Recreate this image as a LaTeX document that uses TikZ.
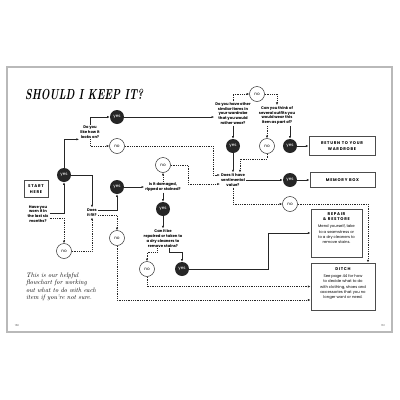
\documentclass[tikz,border=0pt]{standalone}
\usepackage{fontspec}
\usetikzlibrary{arrows.meta,positioning}
\newfontfamily\flowfont{Poppins}
\newfontfamily\capsfont[LetterSpace=18]{Poppins}
\newcommand\boxfont{\capsfont\bfseries\fontsize{4}{5.4}\selectfont}
\newcommand\askfont{\flowfont\bfseries\fontsize{3.8}{4.8}\selectfont}
\tikzset{
  yesdot/.style={circle,fill=black!85,text=white,minimum size=14pt,inner sep=0pt,
    font=\flowfont\fontsize{4.2}{4.4}\selectfont},
  nodot/.style={circle,draw=black!80,line width=0.5pt,fill=white,minimum size=15pt,inner sep=0pt,
    font=\flowfont\fontsize{4.2}{4.4}\selectfont},
  ask/.style={align=center,inner sep=1pt,font=\askfont},
  endbox/.style={draw=black!70,line width=0.9pt,align=center,inner sep=0pt,font=\boxfont},
  boxtitle/.style={align=center,inner sep=0.5pt,font=\boxfont},
  boxbody/.style={align=center,inner sep=0.5pt,font=\flowfont\fontsize{3.8}{5.3}\selectfont},
  yesline/.style={draw=black!85,line width=0.6pt,-{Latex[length=2.6pt,width=2.2pt]}},
  noline/.style={draw=black!85,line width=0.5pt,dash pattern=on 0.8pt off 1pt,
    -{Latex[length=2.6pt,width=2.2pt]}}
}
\begin{document}
\begin{tikzpicture}[x=1pt,y=-1pt]
  \useasboundingbox (0,0) rectangle (400,400);
  \draw[gray!55,line width=1.4pt] (7,67) rectangle (392,332);
  \node[anchor=base west,inner sep=0,font=\bfseries\itshape\fontsize{14.5}{15}\selectfont] (title) at (25,99.5)
    {\scalebox{0.7}[1]{SHOULD I KEEP IT?}};
  \node[anchor=north west,align=left,inner sep=0,scale=0.65,font=\itshape\fontsize{10}{11.2}\selectfont] (blurb) at (26,273)
    {This is our helpful\\flowchart for working\\out what to do with each\\item if you're not sure.};
  \node[font=\flowfont\fontsize{2.6}{3}\selectfont,text=black!70] (leftpage) at (17,326) {160};
  \node[font=\flowfont\fontsize{2.6}{3}\selectfont,text=black!70] (rightpage) at (383,326) {161};

  % questions and answers
  \node[endbox,minimum width=24pt,minimum height=17pt] (start) at (36,189) {START\\HERE};
  \node[ask] (worn) at (38,214) {Have you\\worn it in\\the last six\\months?};
  \node[yesdot] (yes1) at (64,175) {yes};
  \node[nodot] (no1) at (64,251) {no};
  \node[ask] (like) at (90,132) {Do you\\like how it\\looks on?};
  \node[yesdot] (yes2) at (117,117) {yes};
  \node[nodot] (no2) at (117,146) {no};
  \node[ask] (fit) at (92,212.5) {Does\\it fit?};
  \node[yesdot] (yes3) at (117,187) {yes};
  \node[nodot] (no3) at (117,238) {no};
  \node[ask] (damaged) at (163,187) {Is it damaged,\\ripped or stained?};
  \node[nodot] (no4) at (163,165) {no};
  \node[yesdot] (yes4) at (163,209) {yes};
  \node[ask] (canfix) at (163,238.5) {Can it be\\repaired or taken to\\a dry cleaners to\\remove stains?};
  \node[nodot] (no5) at (147,269) {no};
  \node[yesdot] (yes5) at (182,269) {yes};
  \node[ask] (similar) at (233,113.5) {Do you have other\\similar items in\\your wardrobe\\that you would\\rather wear?};
  \node[nodot] (no6) at (257,94) {no};
  \node[ask] (outfits) at (277,115.5) {Can you think of\\several outfits you\\would wear this\\item as part of?};
  \node[yesdot] (yes6) at (233,146) {yes};
  \node[nodot] (no7) at (267,146) {no};
  \node[yesdot] (yes7) at (290,146) {yes};
  \node[ask] (sentimental) at (233,180) {Does it have\\sentimental\\value?};
  \node[yesdot] (yes8) at (290,180) {yes};
  \node[nodot] (no8) at (290,204) {no};

  % outcomes
  \node[endbox,minimum width=66pt,minimum height=19pt] (returnbox) at (342,146) {RETURN TO YOUR\\WARDROBE};
  \node[endbox,minimum width=65pt,minimum height=15pt] (memorybox) at (342.5,180) {MEMORY BOX};
  \node[endbox,minimum width=51pt,minimum height=48pt] (repairbox) at (336.5,233) {};
  \node[boxtitle,below=3pt of repairbox.north] (repairtitle) {REPAIR\\\& RESTORE};
  \node[boxbody,below=3pt of repairtitle] (repairtext) {Mend yourself, take\\to a seamstress or\\to a dry cleaners to\\remove stains.};
  \node[endbox,minimum width=64pt,minimum height=47pt] (ditch) at (343,286.5) {};
  \node[boxtitle,below=4pt of ditch.north] (ditchtitle) {DITCH};
  \node[boxbody,below=3pt of ditchtitle] (ditchtext) {See page 44 for how\\to decide what to do\\with clothing, shoes and\\accessories that you no\\longer want or need.};

  % connectors
  \draw[yesline] ([yshift=1pt]worn.east) -| (yes1);
  \draw[noline] ([yshift=-4pt]worn.east) -| (no1);
  \draw[yesline] (yes1) |- (like.south west);
  \draw[yesline] (yes1) -| (fit);
  \draw[noline] (no1) -| (fit);
  \draw[yesline] (like.north) |- (yes2);
  \draw[noline] (like.south) |- (no2);
  \draw[yesline] ([yshift=2.5pt]fit.east) -| (yes3);
  \draw[noline] ([yshift=-2.5pt]fit.east) -| (no3);
  \draw[yesline] (yes3) -- (damaged);
  \draw[noline] (damaged) -- (no4);
  \draw[yesline] (damaged) -- (yes4);
  \draw[yesline] (yes4) -- (canfix);
  \draw[noline] ([xshift=-6pt]canfix.south) -- ++(0,4) -| (no5);
  \draw[yesline] ([xshift=6pt]canfix.south) -- ++(0,4) -| (yes5);
  \draw[yesline] (yes5) -- ++(86,0) |- (repairbox);
  \draw[noline] (no5) |- (ditch);
  \draw[noline] (no3) |- ([yshift=-13.5pt]ditch.west);
  \draw[yesline] (yes2) -- (yes2 -| similar.west);
  \draw[noline] (similar.north) |- (no6);
  \draw[noline] (no6) -| (outfits.north);
  \draw[yesline] (similar) -- (yes6);
  \draw[noline] (outfits.south -| no7) -- (no7);
  \draw[yesline] (outfits.south -| yes7) -- (yes7);
  \draw[yesline] (yes7) -- (returnbox);
  \draw[yesline] (yes6) -- (sentimental);
  \draw[noline] (no7) -- ++(0,13) -| ([xshift=7pt]sentimental.north);
  \draw[noline] (no2) -- ++(96,0) |- ([yshift=5pt]sentimental.west);
  \draw[noline] (no4) -- ++(25,0) |- ([yshift=-4pt]sentimental.west);
  \draw[yesline] (sentimental) -- (yes8);
  \draw[yesline] (yes8) -- (memorybox);
  \draw[noline] (sentimental.south) |- (no8);
  \draw[noline] (no8) -| ([xshift=25pt]ditch.north);
\end{tikzpicture}
\end{document}
